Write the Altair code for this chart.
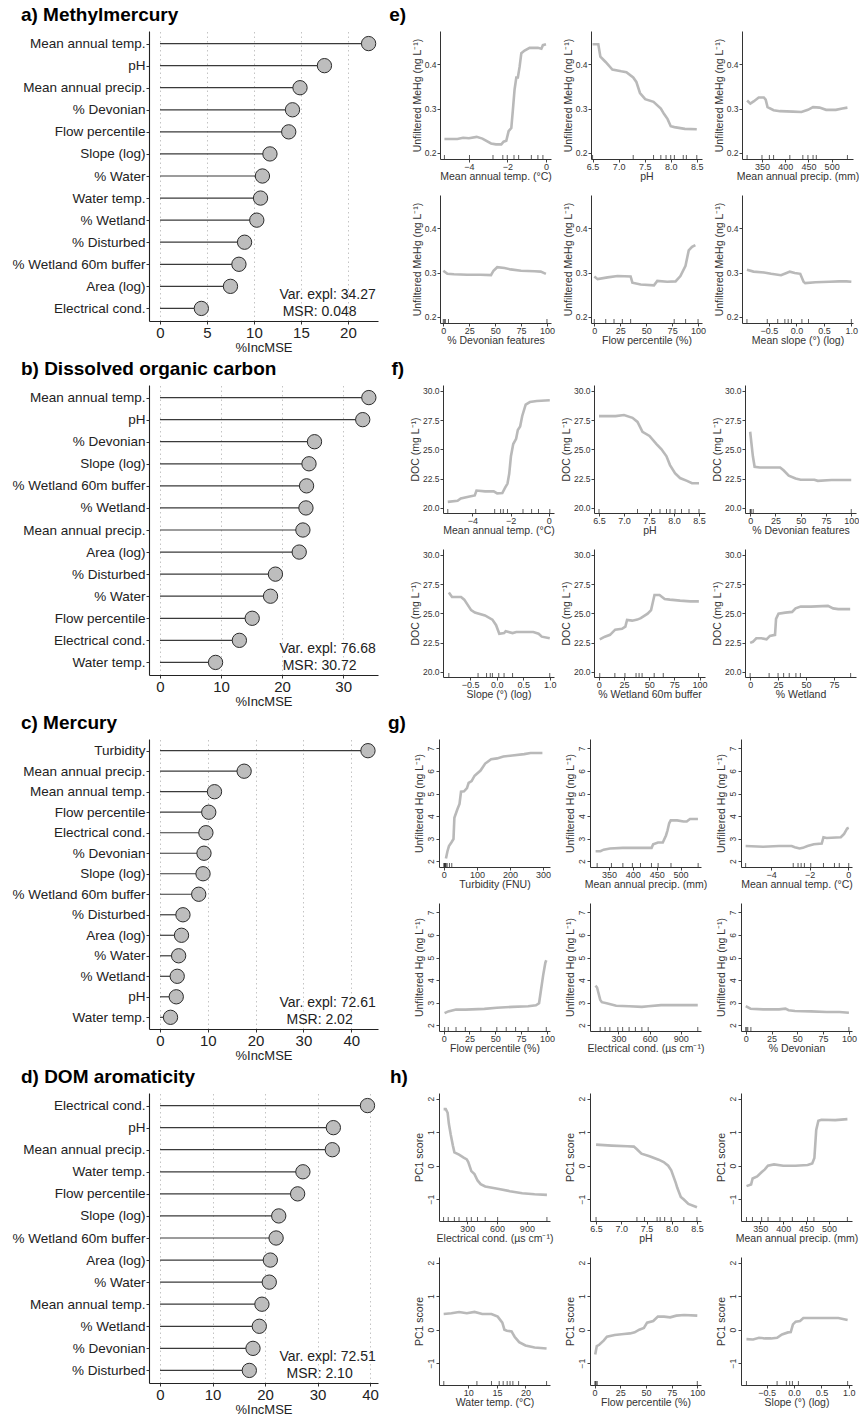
import altair as alt
import pandas as pd

FONT = "Liberation Sans"

# ---------------- left column: variable importance (%IncMSE) ----------------
a_vars = ["Mean annual temp.", "pH", "Mean annual precip.", "% Devonian", "Flow percentile",
          "Slope (log)", "% Water", "Water temp.", "% Wetland", "% Disturbed",
          "% Wetland 60m buffer", "Area (log)", "Electrical cond."]
a_vals = [22.2, 17.5, 14.9, 14.1, 13.7, 11.7, 10.9, 10.7, 10.3, 9.0, 8.4, 7.5, 4.4]

b_vars = ["Mean annual temp.", "pH", "% Devonian", "Slope (log)", "% Wetland 60m buffer",
          "% Wetland", "Mean annual precip.", "Area (log)", "% Disturbed", "% Water",
          "Flow percentile", "Electrical cond.", "Water temp."]
b_vals = [34.2, 33.2, 25.3, 24.4, 24.0, 23.9, 23.4, 22.8, 18.9, 18.1, 15.1, 13.0, 9.1]

c_vars = ["Turbidity", "Mean annual precip.", "Mean annual temp.", "Flow percentile",
          "Electrical cond.", "% Devonian", "Slope (log)", "% Wetland 60m buffer",
          "% Disturbed", "Area (log)", "% Water", "% Wetland", "pH", "Water temp."]
c_vals = [43.5, 17.6, 11.4, 10.2, 9.6, 9.2, 9.0, 8.1, 4.8, 4.5, 3.9, 3.6, 3.4, 2.2]

d_vars = ["Electrical cond.", "pH", "Mean annual precip.", "Water temp.", "Flow percentile",
          "Slope (log)", "% Wetland 60m buffer", "Area (log)", "% Water", "Mean annual temp.",
          "% Wetland", "% Devonian", "% Disturbed"]
d_vals = [39.5, 33.0, 32.8, 27.2, 26.2, 22.6, 22.1, 21.0, 20.8, 19.4, 18.9, 17.7, 17.0]

# ---------------- right column: partial dependence curves ----------------
# e) Methylmercury
e1_x = [-5.27, -4.6, -4.3, -4.0, -3.6, -3.3, -2.85, -2.6, -2.32, -2.2, -2.06, -1.94, -1.8, -1.72,
        -1.63, -1.54, -1.46, -1.37, -1.28, -1.11, -0.85, -0.42, -0.24, -0.16, 0.0]
e1_y = [0.231, 0.231, 0.234, 0.233, 0.236, 0.232, 0.221, 0.219, 0.219, 0.225, 0.227, 0.249, 0.256,
        0.296, 0.343, 0.370, 0.370, 0.394, 0.425, 0.431, 0.437, 0.437, 0.435, 0.443, 0.445]
e1_rug = [-5.27, -3.97, -2.75, -2.24, -2.01, -1.66, -1.42, -0.76, -0.42, -0.16]
e2_x = [6.5, 6.61, 6.65, 6.75, 6.88, 7.05, 7.15, 7.28, 7.34, 7.41, 7.51, 7.67, 7.81, 7.87, 7.94, 8.0,
        8.07, 8.27, 8.5]
e2_y = [0.445, 0.445, 0.417, 0.405, 0.388, 0.384, 0.382, 0.370, 0.360, 0.335, 0.321, 0.315, 0.300,
        0.288, 0.276, 0.260, 0.258, 0.254, 0.253]
e2_rug = [6.5, 7.28, 7.67, 7.81, 7.91, 8.0, 8.07, 8.24, 8.3, 8.5]
e3_x = [318, 325, 332, 343, 354, 358, 362, 375, 389, 417, 435, 449, 460, 474, 488, 509, 523, 534]
e3_y = [0.318, 0.311, 0.316, 0.325, 0.325, 0.320, 0.303, 0.296, 0.294, 0.293, 0.292, 0.297, 0.303,
        0.302, 0.297, 0.297, 0.300, 0.302]
e3_rug = [318, 350, 366, 375, 410, 438, 449, 460, 467, 534]
e4_x = [0, 3.9, 10.3, 23, 36, 46, 48.4, 52, 59, 65, 75, 88, 94, 99]
e4_y = [0.304, 0.297, 0.296, 0.295, 0.295, 0.294, 0.304, 0.312, 0.310, 0.307, 0.304, 0.303, 0.302,
        0.297]
e4_rug = [0, 1, 2, 5, 100]
e5_x = [0, 3.2, 12.8, 22.4, 35, 36.7, 44.7, 57.5, 60.7, 70.3, 78.3, 83, 87.9, 91, 94.2, 97.4]
e5_y = [0.291, 0.285, 0.289, 0.292, 0.291, 0.277, 0.273, 0.271, 0.281, 0.279, 0.280, 0.292, 0.315,
        0.350, 0.358, 0.362]
e5_rug = [0, 11, 19, 27, 35, 77, 88, 100]
e6_x = [-0.9, -0.78, -0.59, -0.46, -0.28, -0.18, -0.12, -0.03, 0.07, 0.13, 0.16, 0.35, 0.6, 0.78,
        0.91, 1.0]
e6_y = [0.306, 0.302, 0.300, 0.297, 0.294, 0.299, 0.302, 0.299, 0.297, 0.279, 0.276, 0.278, 0.279,
        0.280, 0.280, 0.279]
e6_rug = [-0.9, -0.53, -0.34, -0.21, -0.15, -0.09, 0.1, 0.22, 1.0]

# f) Dissolved organic carbon
f1_x = [-5.28, -4.77, -4.6, -4.14, -3.87, -3.78, -3.33, -2.88, -2.7, -2.43, -2.29, -2.16, -2.07,
        -1.98, -1.86, -1.71, -1.62, -1.5, -1.39, -1.21, -0.99, -0.63, 0.05]
f1_y = [20.5, 20.6, 20.8, 20.96, 21.05, 21.47, 21.4, 21.4, 21.23, 21.26, 21.7, 22.07, 22.9, 24.4,
        25.45, 25.9, 26.65, 26.95, 27.85, 28.83, 29.04, 29.13, 29.19]
f1_rug = [-5.28, -3.82, -2.83, -2.52, -2.38, -2.16, -1.35, -0.9, -0.54, 0.05]
f2_x = [6.5, 6.83, 7.0, 7.17, 7.27, 7.37, 7.51, 7.65, 7.75, 7.85, 7.92, 8.02, 8.12, 8.26, 8.36, 8.5]
f2_y = [27.84, 27.84, 27.93, 27.69, 27.34, 26.5, 26.14, 25.45, 25.0, 24.4, 23.65, 22.96, 22.54,
        22.3, 22.1, 22.1]
f2_rug = [6.5, 7.27, 7.55, 7.72, 7.85, 7.92, 8.02, 8.15, 8.3, 8.5]
f3_x = [0, 2.7, 4.4, 9.5, 19.6, 29.7, 33, 38.2, 44.9, 50, 63.5, 66.9, 80.4, 100]
f3_y = [26.5, 24.4, 23.5, 23.44, 23.44, 23.44, 23.2, 22.75, 22.5, 22.4, 22.4, 22.3, 22.37, 22.37]
f3_rug = [0, 0.5, 1, 3, 100]
f4_x = [-0.9, -0.84, -0.67, -0.61, -0.48, -0.41, -0.22, -0.08, -0.01, 0.05, 0.14, 0.17, 0.3, 0.37,
        0.69, 0.79, 0.85, 1.0]
f4_y = [26.78, 26.39, 26.39, 26.17, 25.27, 25.06, 24.82, 24.46, 23.98, 23.25, 23.31, 23.46, 23.31,
        23.4, 23.4, 23.25, 23.0, 22.86]
f4_rug = [-0.9, -0.35, -0.19, -0.12, -0.08, 0.04, 0.14, 0.3, 1.0]
f5_x = [1, 6.1, 11.2, 16.3, 23.1, 26.4, 28.1, 33.2, 38.3, 41.7, 48.5, 51.9, 55.3, 60.3, 65.4, 70.5,
        80.7, 90.8, 99.3]
f5_y = [22.77, 23.0, 23.16, 23.6, 23.67, 23.86, 24.43, 24.37, 24.46, 24.58, 24.97, 25.27, 26.57,
        26.57, 26.23, 26.17, 26.08, 26.02, 26.02]
f5_rug = [1, 16, 26, 37, 40, 43, 55, 64, 99]
f6_x = [0, 2.4, 5.5, 10.1, 14.7, 17.7, 22.3, 23.2, 25.4, 31.5, 37.6, 40.7, 45.3, 54.4, 69.7, 74.3,
        78.9, 89.6]
f6_y = [22.47, 22.56, 22.86, 22.86, 22.77, 23.07, 23.16, 24.52, 24.97, 25.06, 25.12, 25.42, 25.57,
        25.57, 25.63, 25.42, 25.36, 25.36]
f6_rug = [0, 17, 25, 30, 35, 41, 45, 90]

# g) Mercury
g1_x = [6.4, 11, 15.5, 22.8, 29.2, 31.9, 41, 47.4, 52, 61, 70, 75, 84, 93, 111, 125, 143, 161, 180,
        207, 243, 262, 298]
g1_y = [2.12, 2.44, 2.67, 2.83, 2.98, 3.92, 4.3, 4.54, 5.08, 5.1, 5.24, 5.47, 5.55, 5.79, 6.02,
        6.33, 6.52, 6.56, 6.64, 6.69, 6.75, 6.8, 6.8]
g1_rug = [0.5, 1, 2, 3, 4, 5, 7, 10, 17, 24]
g2_x = [321.8, 331.9, 338.6, 352, 378.9, 392.3, 439.3, 442.6, 452.7, 462.8, 469.5, 472.8, 476.2,
        479.5, 493, 506.4, 513.1, 519.8, 536.6]
g2_y = [2.44, 2.44, 2.51, 2.56, 2.59, 2.59, 2.59, 2.75, 2.83, 2.83, 3.14, 3.37, 3.68, 3.81, 3.81,
        3.76, 3.76, 3.87, 3.87]
g2_rug = [325, 355, 379, 399, 416, 439, 453, 480, 537]
g3_x = [-5.32, -4.41, -3.59, -2.93, -2.77, -2.52, -2.35, -2.11, -1.78, -1.37, -1.28, -1.12, -0.38,
        -0.21, -0.05, 0.03]
g3_y = [2.67, 2.64, 2.67, 2.67, 2.62, 2.56, 2.59, 2.67, 2.75, 2.78, 3.06, 3.03, 3.06, 3.21, 3.45,
        3.48]
g3_rug = [-5.32, -2.85, -2.6, -2.44, -2.27, -1.94, -1.28, -0.71, -0.46, 0.03]
g4_x = [0.9, 4.5, 12.1, 21.2, 39.4, 51.5, 66.7, 81.8, 89.4, 92.4, 93.9, 96.4, 98.5, 99.4]
g4_y = [2.53, 2.61, 2.69, 2.69, 2.72, 2.77, 2.81, 2.84, 2.88, 2.97, 3.44, 4.22, 4.77, 4.88]
g4_rug = [1, 4.5, 12, 21, 36, 51.5, 60.6, 69.7, 81.8, 99.4]
g5_x = [78.5, 94, 124, 140, 186, 278, 402, 525, 586, 709, 863, 1063]
g5_y = [3.75, 3.67, 3.13, 3.02, 2.97, 2.86, 2.84, 2.81, 2.84, 2.89, 2.89, 2.89]
g5_rug = [124, 171, 217, 294, 340, 402, 463, 525, 586, 1063]
g6_x = [0, 4.6, 16.9, 32.3, 38.5, 41.5, 47.7, 63.1, 78.5, 90.8, 100]
g6_y = [2.84, 2.73, 2.70, 2.70, 2.73, 2.66, 2.63, 2.61, 2.58, 2.58, 2.55]
g6_rug = [0, 1, 2, 5, 100]

# h) DOM aromaticity
h1_x = [60.6, 82, 101, 113.5, 132, 154, 169.4, 216, 262.7, 294, 309, 340, 371.5, 402.6, 433.7,
        480, 604.6, 729, 853, 977.6, 1102]
h1_y = [1.69, 1.69, 1.58, 1.25, 0.93, 0.6, 0.4, 0.33, 0.24, 0.19, 0.11, -0.16, -0.25, -0.44, -0.55,
        -0.62, -0.69, -0.76, -0.82, -0.85, -0.87]
h1_rug = [60, 107, 169, 216, 294, 340, 402, 480, 605, 1102]
h2_x = [6.5, 6.81, 7.12, 7.25, 7.31, 7.4, 7.56, 7.74, 7.84, 7.93, 7.99, 8.08, 8.11, 8.18, 8.24,
        8.33, 8.5]
h2_y = [0.63, 0.6, 0.58, 0.57, 0.49, 0.36, 0.28, 0.18, 0.11, 0.0, -0.14, -0.51, -0.66, -0.93, -1.01,
        -1.14, -1.24]
h2_rug = [6.5, 7.31, 7.46, 7.71, 7.77, 7.86, 7.99, 8.24, 8.5]
h3_x = [320, 330, 333.3, 343.3, 353.3, 360, 366.7, 380, 400, 426.7, 453.3, 463.3, 468, 472, 476.7,
        483.3, 513.3, 540]
h3_y = [-0.61, -0.56, -0.38, -0.32, -0.19, -0.11, 0.0, 0.04, 0.0, 0.0, 0.02, 0.07, 0.23, 1.07, 1.34,
        1.37, 1.36, 1.39]
h3_rug = [320, 333, 353, 367, 393, 420, 453, 467, 540]
h4_x = [5.68, 7.03, 8.38, 9.73, 11.08, 12.43, 14.05, 15.14, 15.95, 16.32, 16.76, 17.57, 18.1, 18.9,
        20.0, 21.6, 23.7]
h4_y = [0.47, 0.49, 0.53, 0.49, 0.53, 0.47, 0.47, 0.39, 0.21, 0.0, -0.03, -0.05, -0.21, -0.37,
        -0.47, -0.53, -0.56]
h4_rug = [5.7, 11.5, 14.05, 15.4, 16.1, 16.8, 17.3, 17.8, 18.8, 23.7]
h5_x = [0.6, 2.1, 4.5, 9.0, 12.0, 19.5, 28.5, 34.5, 39.0, 43.5, 48.0, 51.1, 57.1, 61.6, 67.6, 73.6,
        79.6, 87.1, 100]
h5_y = [-0.74, -0.49, -0.45, -0.32, -0.21, -0.16, -0.13, -0.11, -0.08, 0.0, 0.05, 0.21, 0.26, 0.39,
        0.39, 0.37, 0.42, 0.44, 0.42]
h5_rug = [0.3, 0.8, 1.5, 2.5, 100]
h6_x = [-0.87, -0.75, -0.64, -0.53, -0.42, -0.31, -0.22, -0.11, -0.06, -0.02, 0.03, 0.11, 0.17,
        0.36, 0.59, 0.81, 0.98]
h6_y = [-0.28, -0.29, -0.24, -0.26, -0.26, -0.24, -0.14, -0.08, -0.07, 0.16, 0.24, 0.26, 0.35,
        0.35, 0.35, 0.35, 0.29]
h6_rug = [-0.87, -0.31, -0.14, -0.08, -0.03, 0.08, 0.98]

TEMP = "Mean annual temp. (°C)"
PRECIP = "Mean annual precip. (mm)"
EC = "Electrical cond. (µs cm⁻¹)"
PCT = [0, 25, 50, 75, 100]
PH = [6.5, 7.0, 7.5, 8.0, 8.5]
SLOPE = [-0.5, 0.0, 0.5, 1.0]

e_specs = [
    (e1_x, e1_y, e1_rug, [-5.5, 0.26], [-4, -2, 0], "d", TEMP),
    (e2_x, e2_y, e2_rug, [6.47, 8.6], PH, ".1f", "pH"),
    (e3_x, e3_y, e3_rug, [307, 546], [350, 400, 450, 500], "d", PRECIP),
    (e4_x, e4_y, e4_rug, [-3.2, 103.9], PCT, "d", "% Devonian features"),
    (e5_x, e5_y, e5_rug, [-3.2, 103.8], PCT, "d", "Flow percentile (%)"),
    (e6_x, e6_y, e6_rug, [-0.99, 1.03], SLOPE, ".1f", "Mean slope (°) (log)"),
]
f_specs = [
    (f1_x, f1_y, f1_rug, [-5.53, 0.27], [-4, -2, 0], "d", TEMP),
    (f2_x, f2_y, f2_rug, [6.4, 8.62], PH, ".1f", "pH"),
    (f3_x, f3_y, f3_rug, [-5.1, 104.7], PCT, "d", "% Devonian features"),
    (f4_x, f4_y, f4_rug, [-1.01, 1.08], SLOPE, ".1f", "Slope (°) (log)"),
    (f5_x, f5_y, f5_rug, [-4.7, 105.4], PCT, "d", "% Wetland 60m buffer"),
    (f6_x, f6_y, f6_rug, [-4.6, 94.8], [0, 25, 50, 75], "d", "% Wetland"),
]
g_specs = [
    (g1_x, g1_y, g1_rug, [-14.6, 321], [0, 100, 200, 300], "d", "Turbidity (FNU)"),
    (g2_x, g2_y, g2_rug, [310, 543], [350, 400, 450, 500], "d", PRECIP),
    (g3_x, g3_y, g3_rug, [-5.56, 0.2], [-4, -2, 0], "d", TEMP),
    (g4_x, g4_y, g4_rug, [-4.5, 103], PCT, "d", "Flow percentile (%)"),
    (g5_x, g5_y, g5_rug, [26, 1094], [300, 600, 900], "d", EC),
    (g6_x, g6_y, g6_rug, [-4.6, 103], PCT, "d", "% Devonian"),
]
h_specs = [
    (h1_x, h1_y, h1_rug, [14, 1133], [300, 600, 900], "d", EC),
    (h2_x, h2_y, h2_rug, [6.38, 8.58], PH, ".1f", "pH"),
    (h3_x, h3_y, h3_rug, [308, 550], [350, 400, 450, 500], "d", PRECIP),
    (h4_x, h4_y, h4_rug, [4.86, 24.3], [10, 15, 20], "d", "Water temp. (°C)"),
    (h5_x, h5_y, h5_rug, [-4.5, 103.6], PCT, "d", "Flow percentile (%)"),
    (h6_x, h6_y, h6_rug, [-0.97, 1.06], SLOPE, ".1f", "Slope (°) (log)"),
]

LW = 229
LH = 290
PW, PH_ = 111, 128


def lollipop(title, names, vals, xdom, xticks, txt1, txt2):
    df = pd.DataFrame({"name": names, "val": vals, "zero": [0] * len(vals)})
    yenc = alt.Y("name:N", sort=names, title=None,
                 scale=alt.Scale(type="point", padding=0.57),
                 axis=alt.Axis(labelFontSize=13.5, labelColor="#222", labelFont=FONT,
                               tickSize=3, tickColor="#333", labelPadding=1,
                               domainColor="#222", domainWidth=1.1, grid=False))
    xsc = alt.Scale(domain=xdom, nice=False, zero=False)
    xax = alt.Axis(values=xticks, format="d", title="%IncMSE", labelFontSize=15,
                   titleFontSize=13, labelColor="#222", titleColor="#222",
                   tickSize=3, tickColor="#333", labelPadding=1, titlePadding=1,
                   domainColor="#222", domainWidth=1.1, grid=True, gridDash=[1.5, 3],
                   gridColor="#c4c4c4", gridWidth=1, labelFlush=False)
    base = alt.Chart(df)
    stems = base.mark_rule(color="#3a3a3a", strokeWidth=1.2).encode(
        x=alt.X("zero:Q", scale=xsc, axis=xax), x2="val:Q", y=yenc)
    dots = base.mark_point(shape="circle", filled=True, fill="#bdbdbd", stroke="#2b2b2b",
                           strokeWidth=1, size=205, opacity=1).encode(
        x=alt.X("val:Q", scale=xsc, axis=xax), y=yenc)
    t1 = alt.Chart(pd.DataFrame({"t": [txt1]})).mark_text(
        font=FONT, fontSize=14, color="#222", align="center", baseline="middle").encode(
        text="t:N", x=alt.value(LW * 0.78), y=alt.value(LH - 26))
    t2 = alt.Chart(pd.DataFrame({"t": [txt2]})).mark_text(
        font=FONT, fontSize=14, color="#222", align="center", baseline="middle").encode(
        text="t:N", x=alt.value(LW * 0.745), y=alt.value(LH - 9))
    return alt.layer(stems, dots, t1, t2).properties(
        width=LW, height=LH,
        title=alt.TitleParams(title, anchor="start", fontSize=19, fontWeight="bold",
                              font=FONT, color="#000", dx=9, offset=6))


def pdp(spec, ydom, yticks, yfmt, ytitle, rot):
    xs, ys, rug, xdom, xticks, xfmt, xtitle = spec
    xenc = alt.X("x:Q", scale=alt.Scale(domain=xdom, nice=False, zero=False),
                 axis=alt.Axis(values=xticks, format=xfmt, title=xtitle, labelFontSize=9,
                               titleFontSize=10.5, labelColor="#333", titleColor="#333",
                               tickSize=3, tickColor="#444", labelPadding=0, titlePadding=0,
                               domainColor="#333", domainWidth=1, grid=False,
                               labelFlush=False, labelOverlap=False))
    yax = dict(values=yticks, format=yfmt, title=ytitle, labelFontSize=8.5, titleFontSize=10.5,
               labelColor="#333", titleColor="#333", tickSize=3, tickColor="#444",
               labelPadding=1, titlePadding=2, domainColor="#333", domainWidth=1, grid=False,
               labelOverlap=False)
    if rot:
        yax.update(labelAngle=270, labelAlign="center", labelBaseline="bottom")
    yenc = alt.Y("y:Q", scale=alt.Scale(domain=ydom, nice=False, zero=False),
                 axis=alt.Axis(**yax))
    line = alt.Chart(pd.DataFrame({"x": xs, "y": ys})).mark_line(
        color="#b9b9b9", strokeWidth=2.6).encode(x=xenc, y=yenc)
    rugc = alt.Chart(pd.DataFrame({"x": rug})).mark_rule(color="#333", strokeWidth=0.8).encode(
        x=xenc, y=alt.value(PH_), y2=alt.value(PH_ - 4))
    return alt.layer(line, rugc).properties(width=PW, height=PH_)


def grid(specs, letter, ydom, yticks, yfmt, ytitle, rot, dx):
    charts = [pdp(s, ydom, yticks, yfmt, ytitle, rot) for s in specs]
    return alt.concat(*charts, columns=3, bounds="flush",
                      spacing=alt.RowColnumber(row=36, column=40),
                      title=alt.TitleParams(letter, anchor="start", fontSize=19,
                                            fontWeight="bold", font=FONT, color="#000",
                                            dx=dx, offset=6))


la = lollipop("a) Methylmercury", a_vars, a_vals, [-1.17, 23.2], [0, 5, 10, 15, 20],
              "Var. expl: 34.27", "MSR: 0.048")
lb = lollipop("b) Dissolved organic carbon", b_vars, b_vals, [-1.8, 35.7], [0, 10, 20, 30],
              "Var. expl: 76.68", "MSR: 30.72")
lc = lollipop("c) Mercury", c_vars, c_vals, [-2.3, 45.6], [0, 10, 20, 30, 40],
              "Var. expl: 72.61", "MSR: 2.02")
ld = lollipop("d) DOM aromaticity", d_vars, d_vals, [-2.1, 41.5], [0, 10, 20, 30, 40],
              "Var. expl: 72.51", "MSR: 2.10")

ge = grid(e_specs, "e)", [0.186, 0.475], [0.2, 0.3, 0.4], ".1f", "Unfiltered MeHg (ng L⁻¹)",
          False, -23)
gf = grid(f_specs, "f)", [19.55, 30.5], [20, 22.5, 25, 27.5, 30], ".1f", "DOC (mg L⁻¹)",
          False, -19)
gg = grid(g_specs, "g)", [1.74, 7.42], [2, 3, 4, 5, 6, 7], "d", "Unfiltered Hg (ng L⁻¹)",
          True, -26)
gh = grid(h_specs, "h)", [-1.65, 2.17], [-1, 0, 1, 2], "d", "PC1 score", True, -24)

rows = [
    alt.hconcat(la, ge, spacing=11),
    alt.hconcat(lb, gf, spacing=13),
    alt.hconcat(lc, gg, spacing=10),
    alt.hconcat(ld, gh, spacing=11),
]

chart = alt.vconcat(*rows, spacing=6).properties(
    padding={"left": 11, "top": 6, "right": 0, "bottom": 0}
).configure_view(stroke=None).configure_axis(
    labelFont=FONT, titleFont=FONT, titleFontWeight="normal"
).configure_title(font=FONT)

chart.save("out.html", embed_options={"renderer": "svg", "actions": False})
